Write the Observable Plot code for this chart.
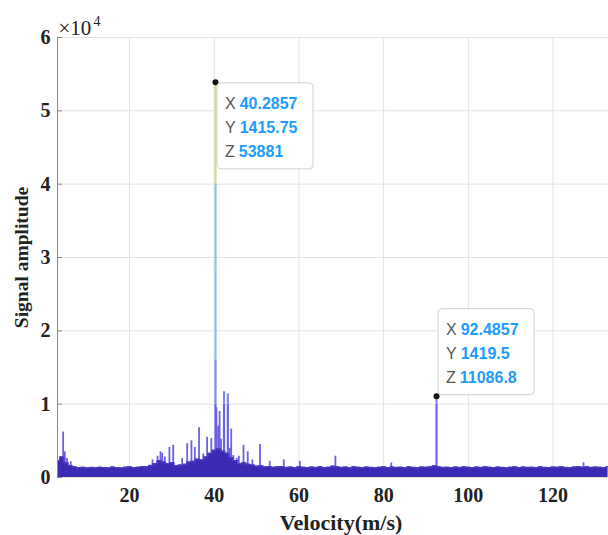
<!DOCTYPE html>
<html>
<head>
<meta charset="utf-8">
<script src="https://cdn.jsdelivr.net/npm/d3@7"></script>
<script src="https://cdn.jsdelivr.net/npm/@observablehq/plot@0.6"></script>
<style>
  html, body { margin: 0; padding: 0; background: #fff; }
  #chart svg { display: block; }
</style>
</head>
<body>
<div id="chart"></div>
<script>
// ---- data ----
const xTicks = [20, 40, 60, 80, 100, 120];
const yTicks = [0, 10000, 20000, 30000, 40000, 50000, 60000];
const xDomain = [2.97, 133.1];
const yDomain = [0, 60000];

// noise floor (top of dense band), velocity 3..133 step 1
const floorStart = 3;
const floorAmp = [
  2300,2800,2000,1600,1450,1350,1400,1300,1380,1320,
  1400,1350,1300,1420,1350,1300,1400,1450,1350,1400,
  1500,1450,1650,1900,2300,2100,1900,2000,1600,1700,
  1800,2100,2200,2500,2400,2800,3300,3700,3900,3600,
  3300,2700,2300,1900,2000,1800,1700,1550,1600,1450,
  1500,1400,1450,1500,1380,1420,1350,1450,1400,1350,
  1420,1380,1450,1350,1400,1550,1450,1380,1420,1350,
  1450,1400,1350,1420,1380,1300,1400,1450,1350,1420,
  1380,1400,1350,1450,1380,1350,1420,1400,1450,1600,
  1450,1380,1400,1350,1420,1380,1450,1400,1350,1420,
  1380,1450,1400,1350,1420,1380,1300,1400,1450,1350,
  1420,1380,1400,1350,1450,1380,1350,1420,1400,1450,
  1380,1350,1420,1500,1400,1450,1380,1420,1400,1350,1450
];

// spikes above the floor
const spikeV = [4.3, 4.7, 5.2, 6.1, 25.4, 26.6, 27.3, 27.7, 28.3, 29.4, 30.3, 32.4, 33.6, 34.6, 35.4, 36.4, 37.4, 38.3, 39.3,
  40.2857, 40.5, 40.9, 41.25, 41.6, 42.3, 43.2, 43.7, 44.0, 44.5, 45.3, 45.8, 46.9, 47.9, 49.0, 50.8, 53.1, 56.4, 60.2, 68.6, 81.8, 92.4857, 127.2];
const spikeA = [6200, 3500, 2600, 2150, 2400, 2900, 3500, 3300, 2800, 4100, 4400, 2600, 4600, 5000, 4100, 6800, 3200, 5500, 5300,
  53881, 9500, 7000, 9000, 5200, 11700, 11400, 4000, 6600, 3000, 2600, 2900, 4400, 3500, 2400, 4500, 2200, 2400, 2200, 2900, 2000, 11086.8, 2000];

// data tips
const tipX = [40.2857, 92.4857];
const tipY = [1415.75, 1419.5];
const tipZ = [53881, 11086.8];

// ---- build tables ----
const floor = floorAmp.map((a, i) => ({v: floorStart + i, a}));
const bands = [0, 10000, 16000, 28000, 40000, Infinity];
const bandColors = ["#6c61e2", "#7f8ae8", "#8cc4e6", "#8ccbd2", "#d3dc8c"];
const segments = [];
spikeV.forEach((v, i) => {
  const a = spikeA[i];
  for (let b = 0; b < bands.length - 1; b++) {
    const lo = bands[b], hi = Math.min(bands[b + 1], a);
    if (hi > lo) segments.push({v, lo, hi, color: bandColors[b], w: a > 10000 ? 2.2 : 1.8});
  }
});
const tips = tipX.map((x, i) => ({x, y: tipY[i], z: tipZ[i]}));

const serif = "Liberation Serif, Times New Roman, serif";

const chart = Plot.plot({
  width: 608,
  height: 535,
  marginLeft: 57,
  marginRight: 0,
  marginTop: 37,
  marginBottom: 58,
  style: {fontFamily: serif, background: "white", color: "#222"},
  x: {domain: xDomain, ticks: xTicks},
  y: {domain: yDomain, ticks: yTicks},
  marks: [
    Plot.gridX(xTicks, {stroke: "#e2e2e2", strokeOpacity: 1}),
    Plot.gridY(yTicks, {stroke: "#e2e2e2", strokeOpacity: 1}),
    Plot.ruleX(segments, {x: "v", y1: "lo", y2: "hi", stroke: "color", strokeWidth: "w"}),
    Plot.areaY(floor, {x: "v", y: "a", fill: "#3b2bb4", curve: "step"}),
    Plot.lineY(floor, {x: "v", y: "a", stroke: "#4c3cc6", strokeWidth: 1.2, curve: "step"}),
    Plot.ruleX([xDomain[0]], {stroke: "#8a8a8a", strokeWidth: 1}),
    Plot.axisY(yTicks, {tickFormat: d => d / 10000, tickSize: -5, tickPadding: 12, stroke: "#8a8a8a",
      fontSize: 20, fontWeight: "bold", label: null}),
    Plot.axisX(xTicks, {tickSize: 0, tickPadding: 10, fontSize: 20, fontWeight: "bold", label: null}),
    Plot.text(["Velocity(m/s)"], {frameAnchor: "bottom", dx: 8, dy: 45, fontSize: 22, fontWeight: "bold", lineAnchor: "middle"}),
    Plot.text(["Signal amplitude"], {frameAnchor: "left", dx: -36, rotate: -90, fontSize: 19.5, fontWeight: "bold",
      textAnchor: "middle", lineAnchor: "middle"}),
    Plot.text(["×10"], {frameAnchor: "top-left", dx: 1, dy: -3, fontSize: 21, textAnchor: "start", lineAnchor: "bottom"}),
    Plot.text(["4"], {frameAnchor: "top-left", dx: 36, dy: -12, fontSize: 14, textAnchor: "start", lineAnchor: "bottom"}),
    Plot.dot(tips, {x: "x", y: "z", r: 3, fill: "#111"})
  ]
});

document.getElementById("chart").appendChild(chart);

// data tip boxes drawn with the plot's scales
const sx = chart.scale("x"), sy = chart.scale("y");
const svg = d3.select(chart);
const g = svg.append("g").attr("font-family", "Liberation Sans, Arial, sans-serif").attr("font-size", 16)
  .attr("text-anchor", "start");
tips.forEach(t => {
  const px = sx.apply(t.x), py = sy.apply(t.z);
  const w = 96, h = 86;
  const top = t.z > 30000 ? py + 1 : py - h - 1;
  const left = px + 2;
  g.append("rect").attr("x", left).attr("y", top).attr("width", w).attr("height", h)
    .attr("rx", 4).attr("fill", "white").attr("fill-opacity", 0.96).attr("stroke", "#cfcfcf");
  const rows = [["X", t.x], ["Y", t.y], ["Z", t.z]];
  rows.forEach((r, k) => {
    const yy = top + 21 + k * 24;
    const tx = g.append("text").attr("x", left + 8).attr("y", yy).attr("dy", "0.35em");
    tx.append("tspan").attr("fill", "#555").text(r[0]);
    tx.append("tspan").attr("fill", "#1e9bff").attr("font-weight", "bold").attr("dx", 4).text(String(r[1]));
  });
});
</script>
</body>
</html>
